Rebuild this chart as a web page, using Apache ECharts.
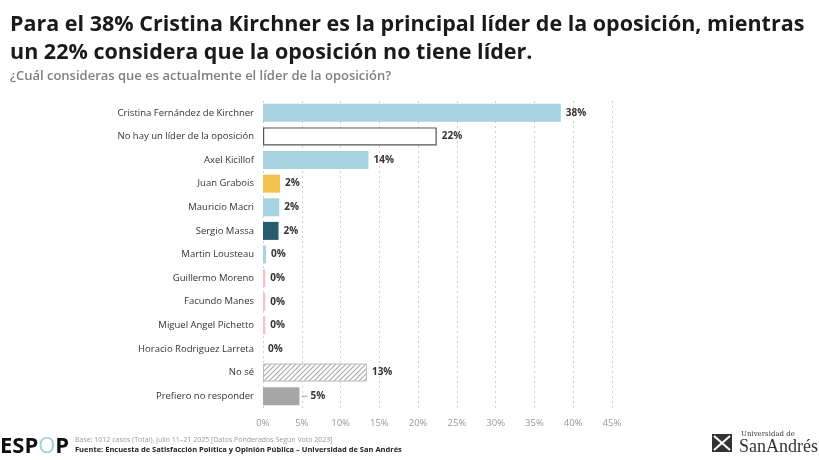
<!DOCTYPE html>
<html><head><meta charset="utf-8">
<script src="https://cdn.jsdelivr.net/npm/echarts@6/dist/echarts.min.js"></script>
<style>html,body{margin:0;padding:0;background:#fff}#c{width:819px;height:460px}</style>
</head><body><div id="c"></div>
<script>
const categories = ["Cristina Fernández de Kirchner","No hay un líder de la oposición","Axel Kicillof","Juan Grabois","Mauricio Macri","Sergio Massa","Martin Lousteau","Guillermo Moreno","Facundo Manes","Miguel Angel Pichetto","Horacio Rodriguez Larreta","No sé","Prefiero no responder"];
const values = [38.4, 22.4, 13.6, 2.2, 2.1, 2.0, 0.4, 0.3, 0.3, 0.3, 0.0, 13.4, 4.7];
const barColors = ["#a9d2e1","#ffffff","#a9d2e1","#f2c14e","#a9d2e1","#285a6e","#a9d2e1","#f3c3c8","#f3c3c8","#f3c3c8","#a9d2e1","hatch","#a6a6a6"];
const tickLabels = ["0%","5%","10%","15%","20%","25%","30%","35%","40%","45%"];

function hatch(){
  const c=document.createElement('canvas');c.width=5;c.height=5;
  const g=c.getContext('2d');g.fillStyle='#fff';g.fillRect(0,0,5,5);
  g.strokeStyle='#a8a8a8';g.lineWidth=1.1;
  g.beginPath();g.moveTo(0,5);g.lineTo(5,0);g.moveTo(-1,1);g.lineTo(1,-1);g.moveTo(4,6);g.lineTo(6,4);g.stroke();
  return {image:c,repeat:'repeat'};
}
const hp = hatch();
const data = values.map((v,i)=>{
  const it={value:v,itemStyle:{color:barColors[i]==='hatch'?hp:barColors[i]}};
  if(i===1){it.itemStyle.borderColor='#555';it.itemStyle.borderWidth=1.2;}
  if(i===11){it.itemStyle.borderColor='#bbb';it.itemStyle.borderWidth=1;}
  if(i===12){it.label={distance:2,formatter:p=>'{l|}{v|'+Math.round(p.value)+'%}'};}
  return it;
});
const chart=echarts.init(document.getElementById('c'));
chart.setOption({
  animation:false,
  title:[
    {text:'Para el 38% Cristina Kirchner es la principal líder de la oposición, mientras\nun 22% considera que la oposición no tiene líder.',left:5,top:6,
     textStyle:{fontFamily:'Open Sans',fontWeight:'bold',fontSize:21.5,color:'#1a1a1a',lineHeight:28}},
    {text:'¿Cuál consideras que es actualmente el líder de la oposición?',left:5,top:65,
     textStyle:{fontFamily:'Open Sans',fontWeight:600,fontSize:13,color:'#7f7f7f'}}
  ],
  grid:{left:263,right:207,top:101,bottom:52},
  xAxis:{type:'value',min:0,max:45,interval:5,
    axisLabel:{formatter:v=>tickLabels[v/5],color:'#9a9a9a',fontSize:9.5,fontFamily:'Open Sans',margin:10},
    splitLine:{show:true,lineStyle:{type:[2,3],color:'#d0d0d0'}},
    axisLine:{show:false},axisTick:{show:false}},
  yAxis:{type:'category',inverse:true,data:categories,
    axisLine:{show:false},axisTick:{show:false},
    axisLabel:{color:'#333',fontSize:9.5,fontFamily:'Open Sans',margin:9}},
  series:[{type:'bar',data:data,barWidth:18,
    label:{show:true,position:'right',distance:5,formatter:p=>Math.round(p.value)+'%',
      color:'#333',fontWeight:'bold',fontSize:10,fontFamily:'Open Sans',
      rich:{l:{width:6,height:1,backgroundColor:'#999'},v:{color:'#333',fontWeight:'bold',fontSize:10,fontFamily:'Open Sans',padding:[0,0,0,3]}}}
  }],
  graphic:[
    {type:'text',left:0,top:436,style:{text:'ESP{o|O}P',font:'bold 22px "Open Sans"',fill:'#111',
      rich:{o:{fill:'#9fd0e2',font:'22px "Open Sans"'}}}},
    {type:'text',left:75,top:436,style:{text:'Base: 1012 casos (Total), Julio 11–21 2025 [Datos Ponderados Según Voto 2023]',font:'7px "Open Sans"',fill:'#9a9a9a'}},
    {type:'text',left:75,top:446,style:{text:'Fuente: Encuesta de Satisfacción Política y Opinión Pública – Universidad de San Andrés',font:'bold 7.5px "Open Sans"',fill:'#222'}},
    {type:'rect',shape:{x:712,y:434,width:20,height:18},style:{fill:'#333'}},
    {type:'line',shape:{x1:714,y1:436,x2:730,y2:450},style:{stroke:'#fff',lineWidth:2}},
    {type:'line',shape:{x1:730,y1:436,x2:714,y2:450},style:{stroke:'#fff',lineWidth:2}},
    {type:'text',left:741,top:431,style:{text:'Universidad de',font:'7px "DejaVu Serif"',fill:'#333'}},
    {type:'text',left:739,top:438,style:{text:'SanAndrés',font:'18px "Liberation Serif"',fill:'#333'}}
  ]
});
</script></body></html>
